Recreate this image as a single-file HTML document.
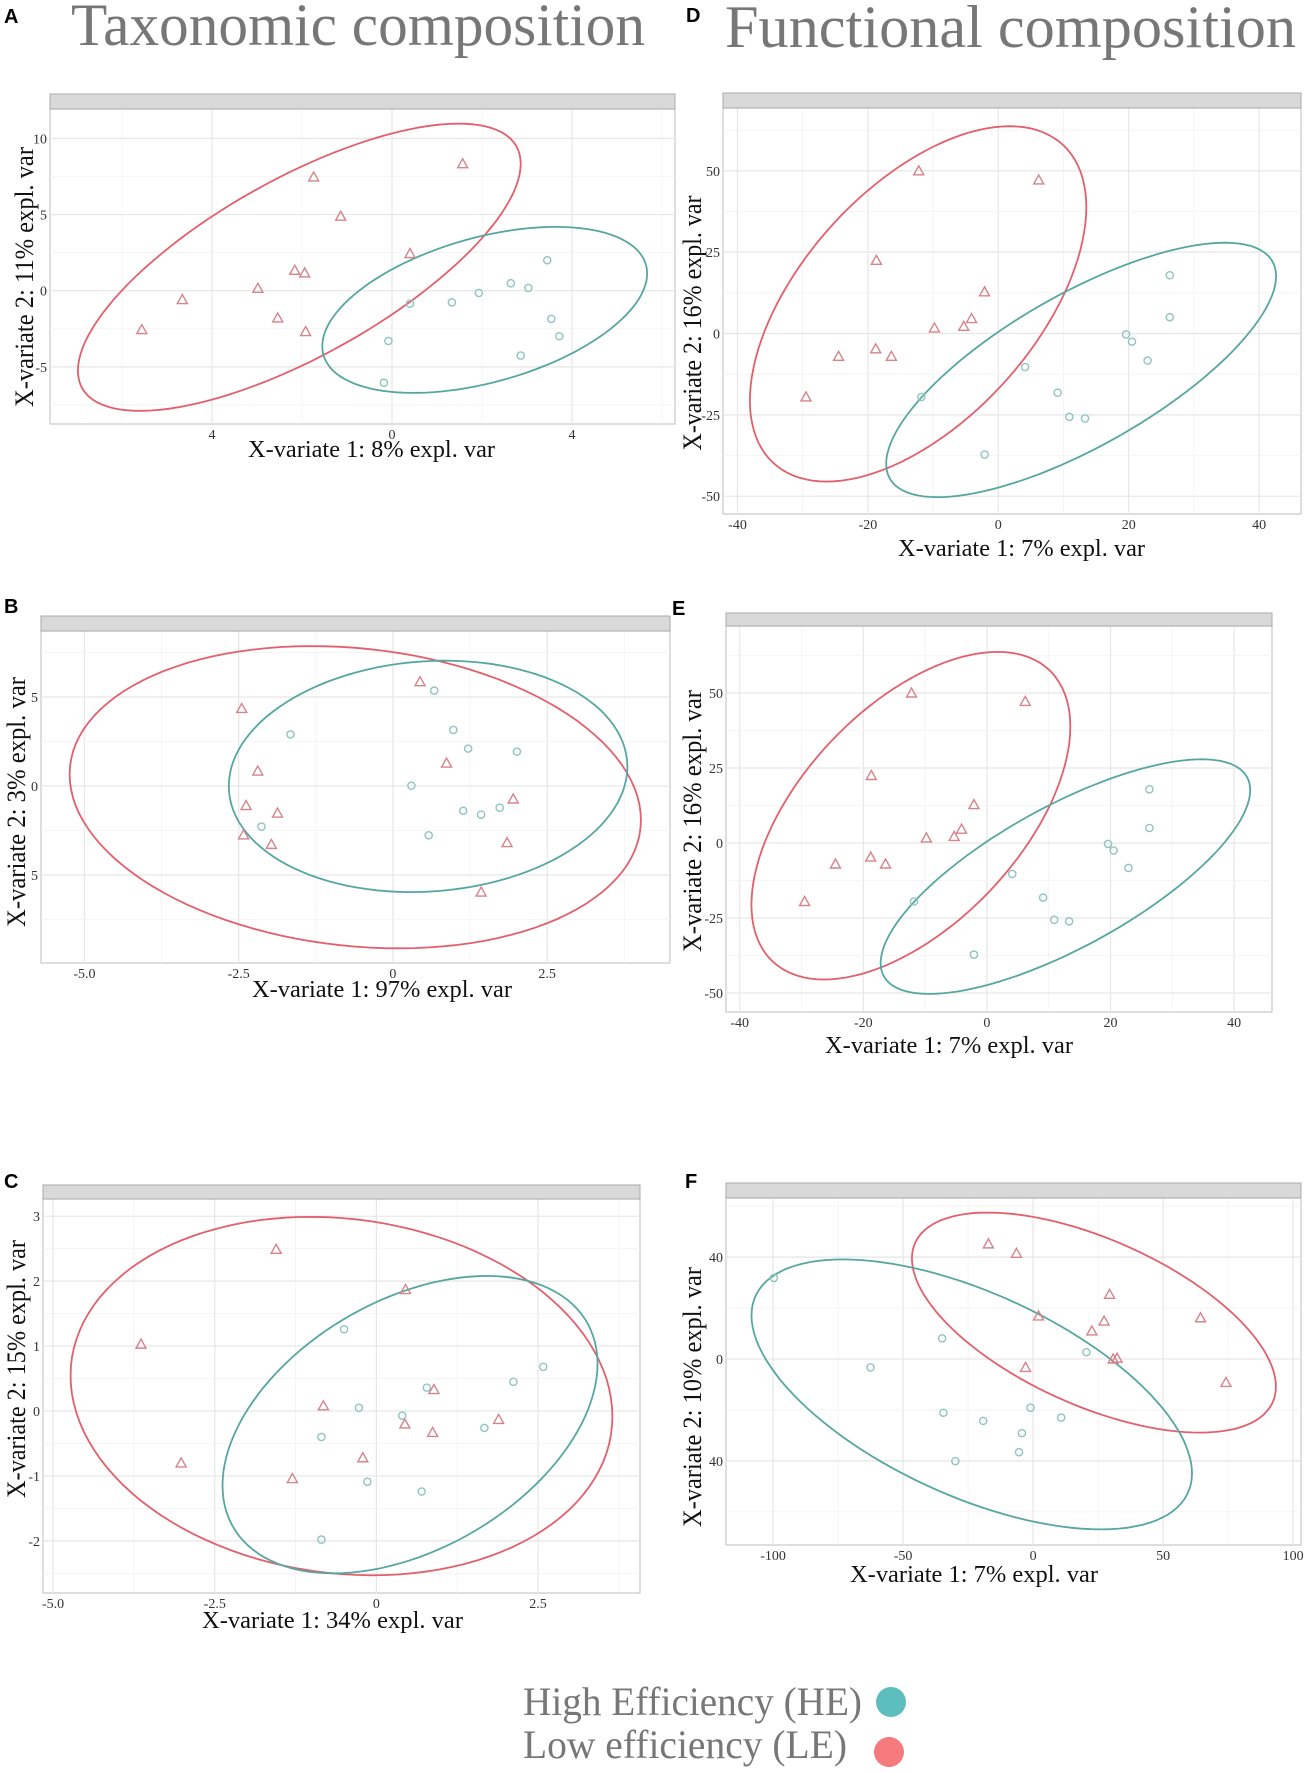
<!DOCTYPE html>
<html><head><meta charset="utf-8"><style>
html,body{margin:0;padding:0;background:#fff;}
svg{display:block;}
</style></head><body>
<svg id="fig" width="1308" height="1772" viewBox="0 0 1308 1772" xmlns="http://www.w3.org/2000/svg">
<text x="71" y="45" font-family="Liberation Serif, serif" font-size="60" fill="#777" textLength="574" lengthAdjust="spacingAndGlyphs">Taxonomic composition</text>
<text x="725" y="47" font-family="Liberation Serif, serif" font-size="60" fill="#777" textLength="571" lengthAdjust="spacingAndGlyphs">Functional composition</text>
<text x="4" y="23" font-family="Liberation Sans, sans-serif" font-weight="bold" font-size="20">A</text>
<text x="4" y="613" font-family="Liberation Sans, sans-serif" font-weight="bold" font-size="20">B</text>
<text x="4" y="1188" font-family="Liberation Sans, sans-serif" font-weight="bold" font-size="20">C</text>
<text x="686" y="22" font-family="Liberation Sans, sans-serif" font-weight="bold" font-size="20">D</text>
<text x="672" y="615" font-family="Liberation Sans, sans-serif" font-weight="bold" font-size="20">E</text>
<text x="685" y="1188" font-family="Liberation Sans, sans-serif" font-weight="bold" font-size="20">F</text>
<g>
<text x="523" y="1715" font-family="Liberation Serif, serif" font-size="40" fill="#777" textLength="339" lengthAdjust="spacingAndGlyphs">High Efficiency (HE)</text>
<circle cx="891" cy="1702" r="15" fill="#5cbfbd"/>
<text x="523" y="1758" font-family="Liberation Serif, serif" font-size="40" fill="#777" textLength="324" lengthAdjust="spacingAndGlyphs">Low efficiency (LE)</text>
<circle cx="889" cy="1752" r="15" fill="#f47a7b"/>
</g>
</svg>
<script>
// ---- Panel A data ----
const aLeX=[-5.56,-4.66,-2.98,-2.54,-2.16,-1.94,-1.92,-1.74,-1.14,0.40,1.57];
const aLeY=[-2.55,-0.58,0.16,-1.79,1.34,1.17,-2.68,7.47,4.89,2.44,8.34];
const aHeX=[-0.18,-0.08,0.40,1.33,1.93,2.64,3.03,3.45,3.54,3.72,2.86];
const aHeY=[-6.05,-3.30,-0.85,-0.76,-0.15,0.49,0.18,2.0,-1.85,-2.99,-4.26];
const aEllLe=[-2.06,1.54,4.92,9.43,0.72];
const aEllHe=[2.06,-1.26,3.61,5.45,0.438];
const aXTicks=[-4,0,4]; const aXLabels=["4","0","4"];
const aYTicks=[10,5,0,-5]; const aYLabels=["10","5","0","-5"];
// ---- Panel B data ----
const bLeX=[0.44,-2.45,-2.19,-2.38,-1.87,-2.42,-1.97,0.87,1.95,1.85,1.43];
const bLeY=[5.86,4.36,0.84,-1.10,-1.52,-2.75,-3.28,1.29,-0.73,-3.18,-5.96];
const bHeX=[0.67,-1.66,0.98,1.22,2.01,0.30,1.14,1.43,1.73,-2.13,0.58];
const bHeY=[5.36,2.90,3.15,2.10,1.93,0.02,-1.39,-1.61,-1.22,-2.28,-2.77];
const bEllLe=[-0.61,-0.63,4.63,8.49,-0.151];
const bEllHe=[0.57,0.54,3.23,6.50,0.084];
const bXTicks=[-5,-2.5,0,2.5]; const bXLabels=["-5.0","-2.5","0","2.5"];
const bYTicks=[5,0,-5]; const bYLabels=["5","0","5"];
// ---- Panel C data ----
const cLeX=[-1.55,-3.64,-3.02,-1.30,-0.82,-0.21,0.45,0.44,0.87,0.89,1.89];
const cLeY=[2.49,1.03,-0.80,-1.04,0.08,-0.72,1.87,-0.20,-0.33,0.33,-0.13];
const cHeX=[-0.50,-0.27,-0.85,-0.14,0.70,-0.85,0.40,0.78,1.67,2.12,2.58];
const cHeY=[1.26,0.05,-0.40,-1.09,-1.24,-1.98,-0.07,0.36,-0.26,0.45,0.68];
const cEllLe=[-0.54,0.23,4.19,2.76,-0.114];
const cEllHe=[0.52,-0.21,2.90,2.29,0.409];
const cXTicks=[-5,-2.5,0,2.5]; const cXLabels=["-5.0","-2.5","0","2.5"];
const cYTicks=[3,2,1,0,-1,-2]; const cYLabels=["3","2","1","0","-1","-2"];
// ---- Panels D and E data ----
const dLeX=[-29.5,-24.5,-18.7,-18.8,-16.4,-12.2,-9.8,-5.3,-4.1,-2.1,6.2];
const dLeY=[-19.5,-7.0,22.5,-4.7,-7.0,50.0,1.7,2.2,4.6,12.8,47.2];
const dHeX=[-11.8,-2.1,4.1,9.1,10.9,13.3,19.6,20.5,22.9,26.3,26.3];
const dHeY=[-19.5,-37.2,-10.3,-18.2,-25.6,-26.1,-0.3,-2.5,-8.3,17.9,5.0];
const dEllLe=[-12.3,9.1,25.8,54.6,0.544];
const dEllHe=[12.7,-11.2,29.9,39.1,0.737];
const dXTicks=[-40,-20,0,20,40]; const dXLabels=["-40","-20","0","20","40"];
const dYTicks=[50,25,0,-25,-50]; const dYLabels=["50","25","0","-25","-50"];
// ---- Panel F data ----
const fLeX=[-17.2,-6.4,29.4,2.1,27.3,22.6,30.8,32.3,-2.9,64.4,74.2];
const fLeY=[45.2,41.5,25.4,16.9,14.9,11.0,0,0.3,-3.3,16.2,-9.2];
const fHeX=[-99.7,-35.0,-62.5,20.5,-1.0,10.8,-34.5,-19.2,-4.3,-5.4,-29.9];
const fHeY=[31.8,8.1,-3.3,2.7,-19.1,-23.0,-21.1,-24.3,-29.1,-36.6,-40.1];
const fEllLe=[23.4,14.3,70.0,43.2,-0.582];
const fEllHe=[-23.6,-13.9,84.7,53.0,-0.585];
const fXTicks=[-100,-50,0,50,100]; const fXLabels=["-100","-50","0","50","100"];
const fYTicks=[40,0,-40]; const fYLabels=["40","0","40"];

const NS="http://www.w3.org/2000/svg";
const svg=document.getElementById('fig');
function mk(tag,attrs,parent){const e=document.createElementNS(NS,tag);for(const k in attrs)e.setAttribute(k,attrs[k]);(parent||svg).appendChild(e);return e;}

function panel(id,fr,leX,leY,heX,heY,ellLe,ellHe,xt,xl,yt,yl,xTitle,yTitle){
  const g=mk('g',{});
  
  
  const sx=v=>fr.x0+v*fr.kx, sy=v=>fr.y0-v*fr.ky;
  const top=fr.s2;
  const bg=mk('rect',{x:fr.l,y:top,width:fr.r-fr.l,height:fr.b-top,fill:'#fff',stroke:'#c8c8c8','stroke-width':1.2},g);
  
  
  const xstep=xt[1]-xt[0], ystep=yt[0]-yt[1];
  const dxMin=(fr.l-fr.x0)/fr.kx, dxMax=(fr.r-fr.x0)/fr.kx;
  for(let v=Math.ceil(dxMin/(xstep/2))*(xstep/2);v<=dxMax;v+=xstep/2){
    const major=Math.abs(Math.round(v/xstep)*xstep-v)<1e-6;
    const ln=mk('line',{x1:sx(v),x2:sx(v),y1:top,y2:fr.b,stroke:major?'#e6e6e6':'#f2f2f2','stroke-width':major?1.2:0.8},g);
    
    
  }
  const dyMin=(fr.y0-fr.b)/fr.ky, dyMax=(fr.y0-top)/fr.ky;
  for(let v=Math.ceil(dyMin/(ystep/2))*(ystep/2);v<=dyMax;v+=ystep/2){
    const major=Math.abs(Math.round(v/ystep)*ystep-v)<1e-6;
    const ln=mk('line',{x1:fr.l,x2:fr.r,y1:sy(v),y2:sy(v),stroke:major?'#e6e6e6':'#f2f2f2','stroke-width':major?1.2:0.8},g);
    
    
  }
  const st=mk('rect',{x:fr.l,y:fr.s1,width:fr.r-fr.l,height:fr.s2-fr.s1,fill:'#d9d9d9',stroke:'#aaa','stroke-width':1},g);
  
  
  xt.forEach((v,i)=>{const t=mk('text',{x:sx(v),y:fr.b+15,'text-anchor':'middle','font-family':'Liberation Serif, serif','font-size':14,fill:'#333'},g);t.textContent=xl[i];
    
    });
  yt.forEach((v,i)=>{const t=mk('text',{x:fr.l-3,y:sy(v)+5,'text-anchor':'end','font-family':'Liberation Serif, serif','font-size':14,fill:'#333'},g);t.textContent=yl[i];
    
    });
  const xtT=mk('text',{x:xTitle.x,y:xTitle.y,'font-family':'Liberation Serif, serif','font-size':24,fill:'#111',textLength:xTitle.w,lengthAdjust:'spacingAndGlyphs'},g);
  xtT.textContent=xTitle.t;
  
  
  const ytT=mk('text',{x:0,y:0,'text-anchor':'middle','font-family':'Liberation Serif, serif','font-size':26,fill:'#111',textLength:yTitle.len,lengthAdjust:'spacingAndGlyphs',transform:`translate(${yTitle.x},${yTitle.cy}) rotate(-90)`},g);
  ytT.textContent=yTitle.t;
  
  
  function ell(p,color,name){
    const c=p[4], s=Math.sqrt(1-c*c); let d='';
    for(let i=0;i<=120;i++){const t=i/120*2*Math.PI;
      const x=p[0]+p[2]*Math.cos(t), y=p[1]+p[3]*(Math.cos(t)*c+Math.sin(t)*s);
      d+=(i?'L':'M')+sx(x).toFixed(1)+','+sy(y).toFixed(1);}
    const e=mk('path',{d:d+'Z',fill:'none',stroke:color,'stroke-width':1.8},g);
    
    
  }
  ell(ellLe,'#e35f6c','ellipse-le-'+id);
  ell(ellHe,'#56a6a2','ellipse-he-'+id);
  leX.forEach((v,i)=>{const x=sx(v),y=sy(leY[i]);
    const p=mk('path',{d:`M${x},${y-5}L${x+5},${y+4}L${x-5},${y+4}Z`,fill:'none',stroke:'#d5848b','stroke-width':1.4},g);
    
    });
  heX.forEach((v,i)=>{
    const p=mk('circle',{cx:sx(v),cy:sy(heY[i]),r:3.6,fill:'none',stroke:'#8fc4c1','stroke-width':1.4},g);
    
    });
}
panel('a',{l:50,r:675,s1:94,s2:109,b:424,x0:392,kx:45,y0:290.7,ky:15.23},aLeX,aLeY,aHeX,aHeY,aEllLe,aEllHe,aXTicks,aXLabels,aYTicks,aYLabels,
  {x:248,y:457,w:247,t:'X-variate 1: 8% expl. var'},{x:33,cy:277,len:260,t:'X-variate 2: 11% expl. var'});
panel('b',{l:41,r:670,s1:616,s2:631,b:963,x0:392.9,kx:61.7,y0:786,ky:17.8},bLeX,bLeY,bHeX,bHeY,bEllLe,bEllHe,bXTicks,bXLabels,bYTicks,bYLabels,
  {x:252,y:997,w:260,t:'X-variate 1: 97% expl. var'},{x:25,cy:802,len:250,t:'X-variate 2: 3% expl. var'});
panel('c',{l:43,r:640,s1:1185,s2:1199,b:1593,x0:376.4,kx:64.66,y0:1411,ky:64.93},cLeX,cLeY,cHeX,cHeY,cEllLe,cEllHe,cXTicks,cXLabels,cYTicks,cYLabels,
  {x:202,y:1628,w:261,t:'X-variate 1: 34% expl. var'},{x:25,cy:1369,len:258,t:'X-variate 2: 15% expl. var'});
panel('d',{l:723,r:1301,s1:93,s2:108,b:514,x0:998.3,kx:6.52,y0:333.5,ky:3.254},dLeX,dLeY,dHeX,dHeY,dEllLe,dEllHe,dXTicks,dXLabels,dYTicks,dYLabels,
  {x:898,y:556,w:247,t:'X-variate 1: 7% expl. var'},{x:701,cy:323,len:255,t:'X-variate 2: 16% expl. var'});
panel('e',{l:726,r:1272,s1:613,s2:626,b:1012,x0:986.9,kx:6.18,y0:843,ky:3.0},dLeX,dLeY,dHeX,dHeY,dEllLe,dEllHe,dXTicks,dXLabels,dYTicks,dYLabels,
  {x:825,y:1053,w:248,t:'X-variate 1: 7% expl. var'},{x:701,cy:821,len:262,t:'X-variate 2: 16% expl. var'});
panel('f',{l:726,r:1301,s1:1183,s2:1198,b:1545,x0:1033.1,kx:2.60,y0:1359,ky:2.547},fLeX,fLeY,fHeX,fHeY,fEllLe,fEllHe,fXTicks,fXLabels,fYTicks,fYLabels,
  {x:850,y:1582,w:248,t:'X-variate 1: 7% expl. var'},{x:701,cy:1397,len:260,t:'X-variate 2: 10% expl. var'});
</script>
</body></html>
